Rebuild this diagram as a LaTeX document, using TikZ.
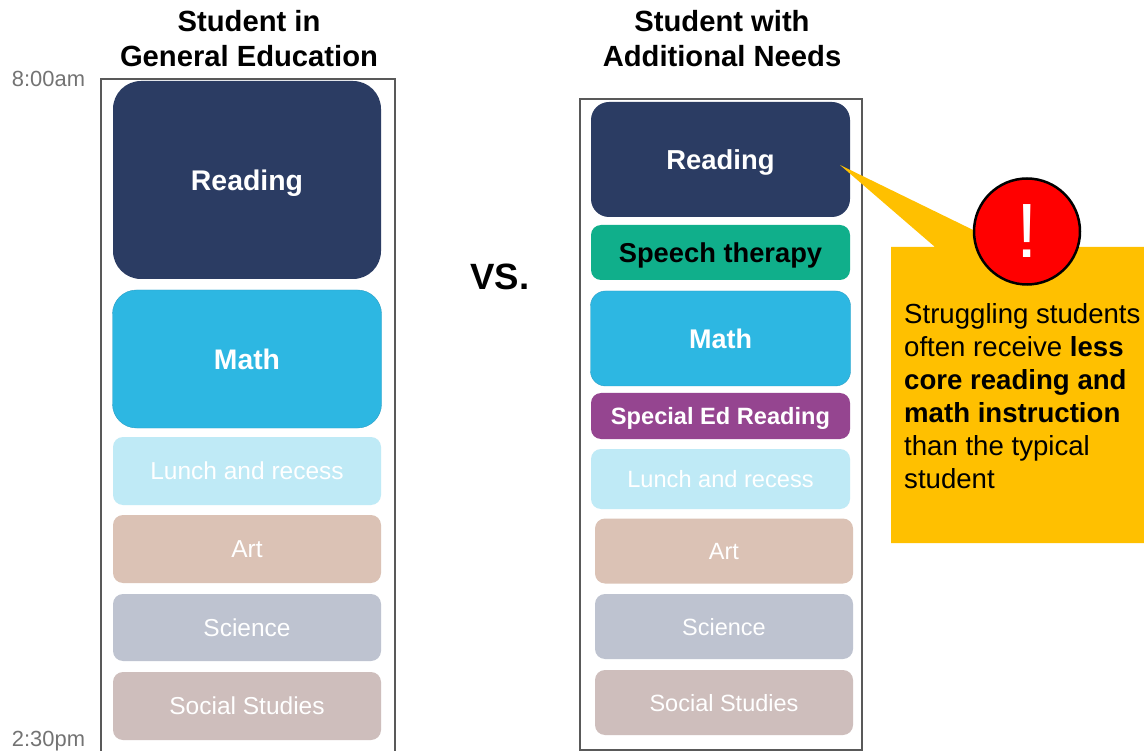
\documentclass[tikz,border=0pt]{standalone}
\usepackage{fontspec}
\setmainfont{Liberation Sans}
\usepackage{xcolor}
\usetikzlibrary{positioning}
\definecolor{navy}{HTML}{2B3C63}
\definecolor{sky}{HTML}{2DB7E2}
\definecolor{skyedge}{HTML}{2A9FC6}
\definecolor{teal}{HTML}{10AF8B}
\definecolor{plum}{HTML}{954590}
\definecolor{pale}{HTML}{BFEAF6}
\definecolor{sand}{HTML}{DBC2B5}
\definecolor{slate}{HTML}{BEC3D0}
\definecolor{taupe}{HTML}{CEBEBC}
\definecolor{amber}{HTML}{FFC000}
\newcommand{\fsize}[1]{\fontsize{#1}{#1}\selectfont}

\begin{document}
\begin{tikzpicture}[x=1pt, y=-1pt]
\tikzstyle{slot}=[rounded corners=10pt, inner sep=0pt, outer sep=0pt, text=white, text depth=0pt]
\tikzstyle{frame}=[draw=black!65, line width=1.2pt, inner sep=0pt, outer sep=0pt, anchor=north west, fill=white]
\tikzstyle{head}=[font=\fsize{29.2}\bfseries, align=center, inner sep=0pt]
\tikzstyle{clock}=[font=\fsize{21.9}, text=black!55, inner sep=0pt]

\useasboundingbox (0,0) rectangle (1144,751);

\node[head] (headL) at (249,38.5) {Student in\\[6pt]General Education};
\node[head] (headR) at (722,38.5) {Student with\\[6pt]Additional Needs};
\node[clock] (start) at (48.5,79) {8:00am};
\node[clock] (stop) at (48.5,741) {2:30pm};
\node[font=\fsize{36.6}\bfseries, inner sep=0pt] (vs) at (500,277) {VS.};

\node[frame, minimum width=294pt, minimum height=680pt] (frameL) at (101,79) {};
\node[frame, minimum width=282pt, minimum height=651pt] (frameR) at (580,99) {};

\node[slot, fill=navy, rounded corners=28pt, minimum width=268pt, minimum height=198pt, anchor=north west, font=\fsize{28.4}\bfseries] (readL) at (113,81) {Reading};
\node[slot, fill=sky, draw=skyedge, rounded corners=24pt, minimum width=269pt, minimum height=138pt, below=11pt of readL, font=\fsize{28.3}\bfseries] (mathL) {Math};
\node[slot, fill=pale, minimum width=268pt, minimum height=68pt, below=9pt of mathL, font=\fsize{24.5}] (lunchL) {Lunch and recess};
\node[slot, fill=sand, minimum width=268pt, minimum height=68pt, below=10pt of lunchL, font=\fsize{24.5}] (artL) {Art};
\node[slot, fill=slate, minimum width=268pt, minimum height=67pt, below=11pt of artL, font=\fsize{24.5}] (sciL) {Science};
\node[slot, fill=taupe, minimum width=268pt, minimum height=68pt, below=11pt of sciL, font=\fsize{24.5}] (socL) {Social Studies};

\node[slot, fill=navy, rounded corners=18pt, minimum width=259pt, minimum height=115pt, anchor=north west, font=\fsize{27.4}\bfseries] (readR) at (591,102) {Reading};
\node[slot, fill=teal, text=black, minimum width=259pt, minimum height=55pt, below=8pt of readR, font=\fsize{27.3}\bfseries] (speech) {Speech therapy};
\node[slot, fill=sky, draw=skyedge, rounded corners=15pt, minimum width=260pt, minimum height=95pt, below=11pt of speech, font=\fsize{27}\bfseries] (mathR) {Math};
\node[slot, fill=plum, minimum width=259pt, minimum height=46pt, below=7pt of mathR, font=\fsize{23.6}\bfseries] (special) {Special Ed Reading};
\node[slot, fill=pale, minimum width=259pt, minimum height=60pt, below=10pt of special, font=\fsize{23.6}] (lunchR) {Lunch and recess};
\node[slot, fill=sand, minimum width=258pt, minimum height=65pt, below=9.5pt of lunchR, xshift=3.5pt, font=\fsize{23.5}] (artR) {Art};
\node[slot, fill=slate, minimum width=258pt, minimum height=65pt, below=10.5pt of artR, font=\fsize{23.5}] (sciR) {Science};
\node[slot, fill=taupe, minimum width=258pt, minimum height=65pt, below=11pt of sciR, font=\fsize{23.5}] (socR) {Social Studies};

\coordinate (tip) at (840,165);
\coordinate (baseA) at (935,247);
\coordinate (baseB) at (1008,247);
\fill[amber] (tip) -- (baseB) -- (1144,247) -- (1144,543) -- (891,543) -- (891,247) -- (baseA) -- cycle;
\node[circle, draw=black, line width=2.5pt, fill=red, minimum size=106pt, inner sep=0pt, text=white, font=\fsize{77}] (alert) at (1027,231.5) {!};
\node[anchor=north west, align=left, inner sep=0pt, font=\fontsize{27.6}{33}\selectfont] (note) at (904,303) {Struggling students\\often receive \textbf{less}\\\textbf{core reading and}\\\textbf{math instruction}\\than the typical\\student};

\end{tikzpicture}
\end{document}
